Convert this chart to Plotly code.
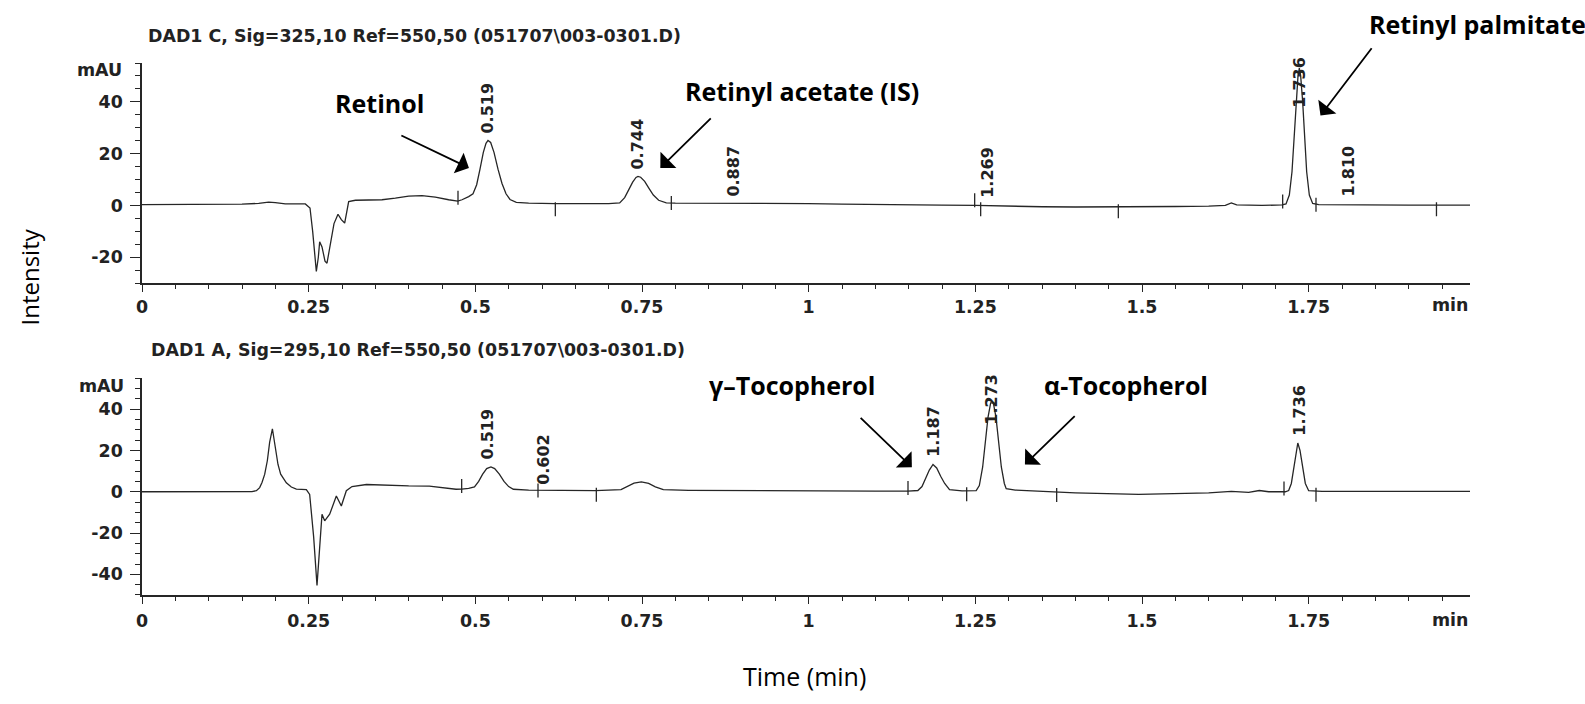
import plotly.graph_objects as go

# ---------------- data ----------------
# Panel 1: DAD1 C, Sig=325 (time in min, absorbance in mAU)
t_c = [0.000, 0.050, 0.100, 0.150, 0.175, 0.190, 0.200, 0.215, 0.245, 0.252,
       0.256, 0.2615, 0.2645, 0.2665, 0.270, 0.2745, 0.2775, 0.282, 0.288, 0.294,
       0.299, 0.304, 0.307, 0.310, 0.320, 0.340, 0.360, 0.380, 0.400, 0.420,
       0.440, 0.460, 0.4735, 0.480, 0.490, 0.4965, 0.502, 0.507, 0.512, 0.516,
       0.519, 0.523, 0.528, 0.534, 0.540, 0.546, 0.552, 0.5615, 0.580, 0.620,
       0.660, 0.700, 0.7165, 0.724, 0.730, 0.736, 0.741, 0.744, 0.748, 0.754,
       0.760, 0.767, 0.775, 0.7865, 0.800, 0.850, 0.900, 0.950, 1.000, 1.050,
       1.100, 1.150, 1.200, 1.250, 1.300, 1.350, 1.400, 1.450, 1.500, 1.550,
       1.600, 1.625, 1.634, 1.642, 1.680, 1.710, 1.716, 1.721, 1.725, 1.728,
       1.731, 1.734, 1.736, 1.738, 1.741, 1.744, 1.747, 1.751, 1.756, 1.765,
       1.800, 1.900, 1.992]
v_c = [0.3, 0.3, 0.4, 0.5, 0.8, 1.3, 1.1, 0.6, 0.6, -1.0,
       -10.0, -25.5, -20.0, -14.0, -16.0, -21.5, -22.3, -15.0, -7.0, -3.4,
       -5.5, -6.8, -3.0, 1.5, 2.0, 2.0, 2.2, 2.8, 3.6, 3.8,
       3.2, 2.2, 1.7, 2.2, 3.4, 4.5, 8.0, 14.0, 20.5, 24.0,
       25.1, 24.3, 20.5, 14.0, 8.5, 4.5, 2.3, 1.2, 0.9, 0.7,
       0.6, 0.7, 1.0, 3.0, 6.0, 9.0, 10.8, 11.2, 10.9, 9.3,
       6.8, 4.0, 2.0, 1.0, 0.9, 0.9, 0.8, 0.8, 0.7, 0.5,
       0.3, 0.2, 0.1, 0.0, -0.3, -0.5, -0.6, -0.6, -0.5, -0.4,
       -0.3, 0.0, 1.0, 0.2, 0.0, 0.2, 0.6, 4.0, 13.0, 26.0,
       40.0, 50.0, 53.0, 50.0, 40.0, 26.0, 13.0, 4.0, 0.8, 0.3,
       0.2, 0.1, 0.1]

# Panel 2: DAD1 A, Sig=295
t_a = [0.000, 0.100, 0.165, 0.1716, 0.1765, 0.180, 0.184, 0.188, 0.1915, 0.1956,
       0.199, 0.202, 0.204, 0.208, 0.2165, 0.224, 0.2315, 0.2465, 0.2515, 0.2575,
       0.2625, 0.2665, 0.270, 0.274, 0.2815, 0.2915, 0.299, 0.3065, 0.315, 0.3367,
       0.360, 0.400, 0.431, 0.455, 0.471, 0.4795, 0.490, 0.4987, 0.505, 0.511,
       0.517, 0.5234, 0.529, 0.536, 0.543, 0.550, 0.557, 0.580, 0.620, 0.680,
       0.7185, 0.728, 0.738, 0.749, 0.760, 0.770, 0.782, 0.820, 0.900, 1.000,
       1.100, 1.149, 1.1638, 1.170, 1.176, 1.181, 1.1865, 1.192, 1.198, 1.204,
       1.2113, 1.230, 1.2513, 1.256, 1.261, 1.265, 1.269, 1.273, 1.277, 1.281,
       1.285, 1.289, 1.2935, 1.2963, 1.310, 1.330, 1.400, 1.495, 1.550, 1.600,
       1.634, 1.660, 1.676, 1.690, 1.715, 1.720, 1.724, 1.728, 1.731, 1.7337,
       1.737, 1.741, 1.745, 1.750, 1.770, 1.850, 1.992]
v_a = [0.0, 0.0, 0.1, 0.5, 2.0, 4.5, 8.4, 15.0, 24.0, 30.5,
       24.0, 17.0, 13.2, 8.5, 4.3, 2.3, 1.3, 1.0, -1.3, -22.0,
       -45.4, -27.0, -10.9, -14.1, -10.9, -2.1, -6.9, 0.5, 2.5, 3.5,
       3.2, 2.8, 2.7, 1.8, 1.2, 1.3, 1.6, 2.3, 5.0, 8.5,
       11.2, 12.0, 11.2, 8.5, 5.0, 2.5, 1.2, 0.8, 0.6, 0.5,
       1.0, 2.5, 4.2, 4.8, 4.0, 2.4, 1.0, 0.7, 0.5, 0.4,
       0.3, 0.3, 0.6, 2.5, 6.5, 10.5, 13.2, 11.5, 7.5, 4.0,
       1.0, 0.4, 0.5, 3.0, 12.0, 24.0, 36.0, 43.0, 43.0, 36.0,
       24.0, 12.0, 4.0, 1.5, 0.8, 0.5, -0.5, -1.3, -1.0, -0.5,
       0.2, -0.3, 0.6, 0.0, 0.0, 0.6, 4.0, 12.0, 20.0, 23.6,
       20.0, 11.0, 4.0, 0.5, 0.2, 0.2, 0.2]

# integration event ticks
ev_t_c = [0.474, 0.620, 0.794, 1.249, 1.258, 1.4645, 1.711, 1.761, 1.9417]
ev_v_c = [3.0, -1.5, 0.9, 2.0, -1.5, -2.2, 1.5, 0.3, -1.5]
ev_t_a = [0.4795, 0.594, 0.6815, 1.149, 1.237, 1.372, 1.713, 1.761]
ev_v_a = [2.8, 0.6, -1.5, 1.8, -1.2, -1.6, 1.6, -1.5]

# retention-time labels (time, label-centre height)
rt_c = [0.519, 0.744, 0.887, 1.269, 1.736, 1.810]
rt_c_y = [37.4, 23.5, 13.2, 12.6, 47.5, 13.4]
rt_a = [0.519, 0.602, 1.187, 1.273, 1.736]
rt_a_y = [27.7, 15.6, 29.2, 44.9, 39.4]

x_tickvals = [0, 0.25, 0.5, 0.75, 1, 1.25, 1.5, 1.75]
x_ticktext = ["0", "0.25", "0.5", "0.75", "1", "1.25", "1.5", "1.75"]
y1_ticks = [-20, 0, 20, 40]
y1_text = ["-20", "0", "20", "40"]
y2_ticks = [-40, -20, 0, 20, 40]
y2_text = ["-40", "-20", "0", "20", "40"]

title_c = "DAD1 C, Sig=325,10 Ref=550,50 (051707\\003-0301.D)"
title_a = "DAD1 A, Sig=295,10 Ref=550,50 (051707\\003-0301.D)"

# compound annotations: text, text pos (t, v), arrow tail (t, v), arrow tip (t, v), panel
compounds = [
    ("Retinol", 0.356, 39.7, 0.3868, 27.3, 0.4904, 14.5, 1),
    ("Retinyl acetate (IS)", 0.990, 44.2, 0.8554, 34.2, 0.7775, 14.5, 1),
    ("γ–Tocopherol", 0.975, 51.8, 1.0757, 36.5, 1.1548, 11.9, 2),
    ("α-Tocopherol", 1.476, 51.8, 1.4013, 37.3, 1.3244, 13.2, 2),
]
palm_arrow = (1.8462, 61.3, 1.7677, 34.7)

# ---------------- figure ----------------
INK = "#262626"
TICKFONT = dict(family="DejaVu Sans", size=17.4, color="#222222", weight="bold")
RTFONT = dict(family="DejaVu Sans", size=16, color="#222222", weight="bold")
LABFONT = dict(family="Open Sans", size=25, color="black")

fig = go.Figure()
fig.add_trace(go.Scatter(x=t_c, y=v_c, mode="lines", line=dict(color=INK, width=1.3),
                         xaxis="x", yaxis="y", showlegend=False, hoverinfo="skip"))
fig.add_trace(go.Scatter(x=t_a, y=v_a, mode="lines", line=dict(color=INK, width=1.3),
                         xaxis="x2", yaxis="y2", showlegend=False, hoverinfo="skip"))
fig.add_trace(go.Scatter(x=ev_t_c, y=ev_v_c, mode="markers",
                         marker=dict(symbol="line-ns", size=10, line=dict(width=1.3, color=INK)),
                         xaxis="x", yaxis="y", showlegend=False, hoverinfo="skip"))
fig.add_trace(go.Scatter(x=ev_t_a, y=ev_v_a, mode="markers",
                         marker=dict(symbol="line-ns", size=10, line=dict(width=1.3, color=INK)),
                         xaxis="x2", yaxis="y2", showlegend=False, hoverinfo="skip"))

axis_common = dict(showgrid=False, zeroline=False, showline=True, linecolor=INK, linewidth=1.5,
                   ticks="outside", tickcolor=INK, tickwidth=1.4, tickfont=TICKFONT)

fig.update_layout(
    width=1585, height=704,
    margin=dict(l=142, r=115, t=63, b=109),
    paper_bgcolor="white", plot_bgcolor="white",
    xaxis=dict(domain=[0, 1], range=[0, 1.992], anchor="y", tickvals=x_tickvals, ticktext=x_ticktext,
               ticklen=7, minor=dict(dtick=0.05, tick0=0, ticks="outside", ticklen=4, tickcolor=INK),
               ticklabelstandoff=0, **axis_common),
    yaxis=dict(domain=[0.5862, 1], range=[-30, 55], anchor="x", tickvals=y1_ticks, ticktext=y1_text,
               ticklen=10, minor=dict(dtick=5, tick0=0, ticks="outside", ticklen=5, tickcolor=INK),
               ticklabelstandoff=4, **axis_common),
    xaxis2=dict(domain=[0, 1], range=[0, 1.992], anchor="y2", tickvals=x_tickvals, ticktext=x_ticktext,
                ticklen=7, minor=dict(dtick=0.05, tick0=0, ticks="outside", ticklen=4, tickcolor=INK),
                ticklabelstandoff=2, **axis_common),
    yaxis2=dict(domain=[0, 0.4076], range=[-50, 55], anchor="x2", tickvals=y2_ticks, ticktext=y2_text,
                ticklen=10, minor=dict(dtick=5, tick0=0, ticks="outside", ticklen=5, tickcolor=INK),
                ticklabelstandoff=4, **axis_common),
)

ann = []
# panel titles and mAU labels
ann.append(dict(text=title_c, xref="paper", yref="paper", x=0.003, y=1.050, xanchor="left",
                yanchor="middle", showarrow=False, font=TICKFONT))
ann.append(dict(text=title_a, xref="paper", yref="paper", x=0.005, y=0.4608, xanchor="left",
                yanchor="middle", showarrow=False, font=TICKFONT))
ann.append(dict(text="mAU", xref="paper", yref="y", x=-0.0135, y=52.3, xanchor="right",
                yanchor="middle", showarrow=False, font=TICKFONT))
ann.append(dict(text="mAU", xref="paper", yref="y2", x=-0.012, y=51.0, xanchor="right",
                yanchor="middle", showarrow=False, font=TICKFONT))
ann.append(dict(text="min", xref="x", yref="paper", x=1.992, y=0.5445, xanchor="right",
                yanchor="middle", showarrow=False, font=TICKFONT))
ann.append(dict(text="min", xref="x2", yref="paper", x=1.992, y=-0.0465, xanchor="right",
                yanchor="middle", showarrow=False, font=TICKFONT))

# retention-time labels
for t, y in zip(rt_c, rt_c_y):
    ann.append(dict(text=f"{t:.3f}", x=t, y=y, xref="x", yref="y", textangle=-90, showarrow=False,
                    xanchor="center", yanchor="middle", font=RTFONT))
for t, y in zip(rt_a, rt_a_y):
    ann.append(dict(text=f"{t:.3f}", x=t, y=y, xref="x2", yref="y2", textangle=-90, showarrow=False,
                    xanchor="center", yanchor="middle", font=RTFONT))

ARROW = dict(showarrow=True, arrowhead=1, arrowsize=2.1, arrowwidth=1.8, arrowcolor="black", standoff=0)

# compound labels with arrows
for name, tx, ty, ax_, ay_, hx, hy, p in compounds:
    xr, yr = ("x", "y") if p == 1 else ("x2", "y2")
    ann.append(dict(text=f"<b>{name}</b>", x=tx, y=ty, xref=xr, yref=yr, showarrow=False,
                    xanchor="center", yanchor="middle", font=LABFONT))
    ann.append(dict(text="", x=hx, y=hy, xref=xr, yref=yr, ax=ax_, ay=ay_, axref=xr, ayref=yr, **ARROW))
# Retinyl palmitate (label sits above the plotting area, placed in paper units)
ann.append(dict(text="<b>Retinyl palmitate</b>", xref="paper", yref="paper", x=1.006, y=1.074,
                xanchor="center", yanchor="middle", showarrow=False, font=LABFONT))
ann.append(dict(text="", x=palm_arrow[2], y=palm_arrow[3], xref="x", yref="y",
                ax=palm_arrow[0], ay=palm_arrow[1], axref="x", ayref="y", **ARROW))

# axis titles
ann.append(dict(text="Intensity", xref="paper", yref="paper", x=-0.0846, y=0.598, textangle=-90,
                xanchor="center", yanchor="middle", showarrow=False,
                font=dict(family="Open Sans", size=24, color="black")))
ann.append(dict(text="Time (min)", xref="paper", yref="paper", x=0.499, y=-0.152,
                xanchor="center", yanchor="middle", showarrow=False,
                font=dict(family="Open Sans", size=25, color="black")))

fig.update_layout(annotations=ann)
fig.write_html("out.html", config={"displayModeBar": False},
               post_script="document.body.style.margin='0px';")
